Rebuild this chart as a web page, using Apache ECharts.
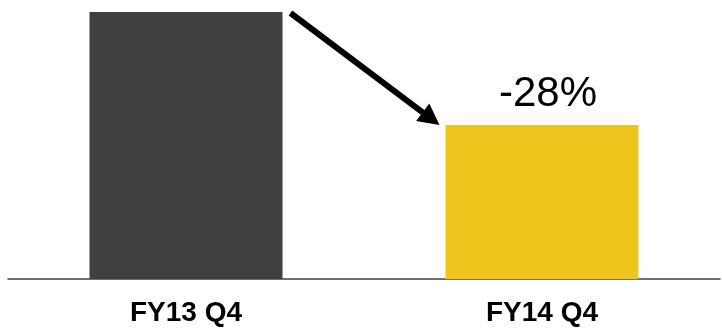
<!DOCTYPE html>
<html><head><meta charset="utf-8">
<script src="https://cdn.jsdelivr.net/npm/echarts@6/dist/echarts.min.js"></script>
<style>html,body{margin:0;padding:0;background:#fff}#c{width:722px;height:333px}</style>
</head><body><div id="c"></div>
<script>
const categories = ['FY13 Q4', 'FY14 Q4'];
const values = [100, 57.7];
const barColors = ['#404040', '#EEC51C'];
const changeLabel = '-28%';

const chart = echarts.init(document.getElementById('c'));
chart.setOption({
  animation: false,
  grid: { left: 8, right: 2, top: 12, bottom: 54, containLabel: false },
  xAxis: {
    type: 'category', data: categories,
    axisLine: { lineStyle: { color: '#404040', width: 1.5 } },
    axisTick: { show: false },
    axisLabel: { fontFamily: 'Liberation Sans, Arial, sans-serif', fontWeight: 'bold', fontSize: 28, color: '#000', margin: 20 }
  },
  yAxis: { type: 'value', min: 0, max: 100, show: false, splitLine: { show: false } },
  series: [{
    type: 'bar', barWidth: 193,
    data: values.map((v, i) => ({
      value: v,
      itemStyle: { color: barColors[i] },
      label: i === 1 ? { show: true, position: 'top', distance: 10, offset: [6, 0], formatter: changeLabel,
        fontFamily: 'Liberation Sans, Arial, sans-serif', fontSize: 42, color: '#000' } : { show: false }
    }))
  }]
});

// arrow from top-right of first bar to top-left of second bar
const half = 193 / 2;
const p1 = chart.convertToPixel({ seriesIndex: 0 }, [0, values[0]]);
const p2 = chart.convertToPixel({ seriesIndex: 0 }, [1, values[1]]);
const x1 = p1[0] + half + 8, y1 = p1[1] + 1;
const x2 = p2[0] - half - 6, y2 = p2[1];
const ang = Math.atan2(y2 - y1, x2 - x1);
const headLen = 21, headW = 11;
const bx = x2 - headLen * Math.cos(ang), by = y2 - headLen * Math.sin(ang);
const nx = -Math.sin(ang), ny = Math.cos(ang);
chart.setOption({
  graphic: [
    { type: 'line', shape: { x1: x1, y1: y1, x2: bx + 2 * Math.cos(ang), y2: by + 2 * Math.sin(ang) },
      style: { stroke: '#000', lineWidth: 6 } },
    { type: 'polygon', shape: { points: [[x2, y2], [bx + nx * headW, by + ny * headW], [bx - nx * headW, by - ny * headW]] },
      style: { fill: '#000' } }
  ]
});
</script></body></html>
